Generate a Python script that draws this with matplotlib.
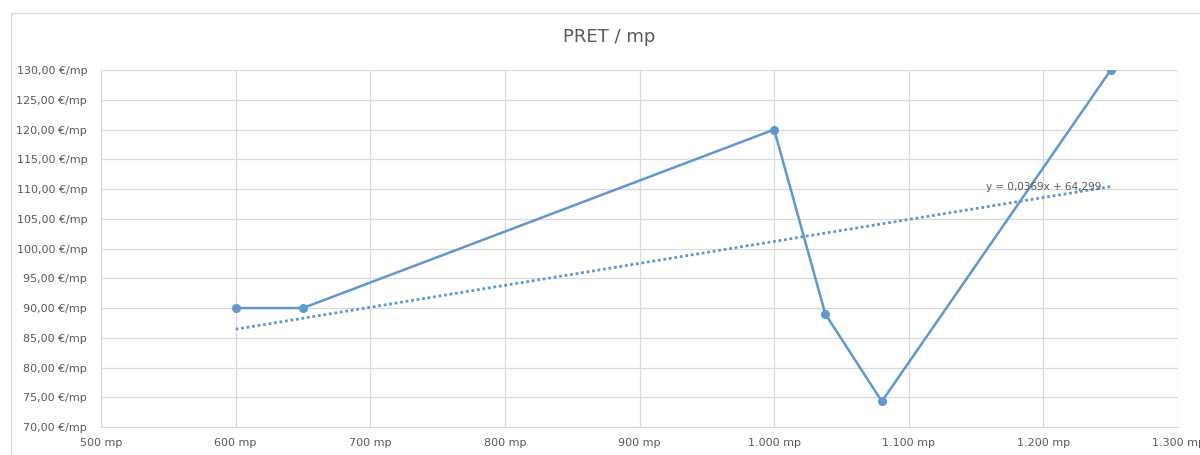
import matplotlib
matplotlib.use("Agg")
import matplotlib.pyplot as plt
from matplotlib.ticker import FuncFormatter, MultipleLocator
from matplotlib.patches import Rectangle

# data
suprafata_mp = [600, 650, 1000, 1038, 1080, 1250]
pret_mp = [90, 90, 120, 89, 74.3, 130]
trend_slope = 0.0369
trend_intercept = 64.299
trend_label = "y = 0,0369x + 64,299"

line_color = "#5e98cd"
text_color = "#595959"
grid_color = "#d9d9d9"


def fmt_thousands(v, pos):
    return "{:,.0f} mp".format(v).replace(",", ".")


def fmt_euro(v, pos):
    return "{:.2f} €/mp".format(v).replace(".", ",")


fig = plt.figure(figsize=(12, 4.55), dpi=100)
ax = fig.add_axes([0.0842, 0.0615, 0.8975, 0.7845])

# chart frame
fig.patches.append(Rectangle((11 / 1200, -0.1), 1.2, 1 - 13 / 455 + 0.1, transform=fig.transFigure,
                             fill=False, edgecolor=grid_color, linewidth=1))

ax.plot(suprafata_mp, pret_mp, color=line_color, linewidth=1.8, marker="o", markersize=5.5, zorder=3)

x_trend = [min(suprafata_mp), max(suprafata_mp)]
y_trend = [trend_slope * x + trend_intercept for x in x_trend]
ax.plot(x_trend, y_trend, color=line_color, linewidth=2, linestyle=(0, (1, 1)), zorder=2)
ax.text(1157, 110.3, trend_label, fontsize=7.5, color=text_color, ha="left", va="center", zorder=4)

ax.set_xlim(500, 1300)
ax.set_ylim(70, 130)
ax.xaxis.set_major_locator(MultipleLocator(100))
ax.yaxis.set_major_locator(MultipleLocator(5))
ax.xaxis.set_major_formatter(FuncFormatter(fmt_thousands))
ax.yaxis.set_major_formatter(FuncFormatter(fmt_euro))
ax.grid(True, color=grid_color, linewidth=0.9)
ax.set_axisbelow(True)
for side in ["top", "right", "left"]:
    ax.spines[side].set_visible(False)
ax.spines["bottom"].set_color(grid_color)
ax.tick_params(axis="both", length=0, labelsize=8, labelcolor=text_color)
ax.tick_params(axis="y", pad=10)
ax.tick_params(axis="x", pad=8)

fig.text(0.508, 1 - 37 / 455, "PRET / mp", fontsize=13, color=text_color, ha="center", va="center")

fig.savefig("out.png", dpi=100)
